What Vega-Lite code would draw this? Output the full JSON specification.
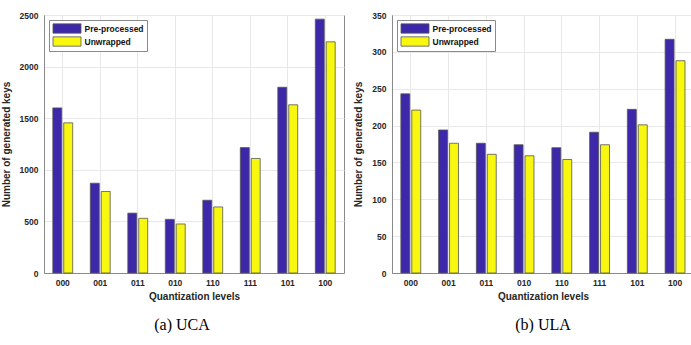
{
  "$schema": "https://vega.github.io/schema/vega-lite/v6.json",
  "padding": {"left": 0, "top": 10, "right": 0, "bottom": 0},
  "background": "white",
  "datasets": {
    "uca": [
      {"level": "000", "series": "Pre-processed", "value": 1600},
      {"level": "000", "series": "Unwrapped", "value": 1455},
      {"level": "001", "series": "Pre-processed", "value": 870},
      {"level": "001", "series": "Unwrapped", "value": 790},
      {"level": "011", "series": "Pre-processed", "value": 580},
      {"level": "011", "series": "Unwrapped", "value": 530},
      {"level": "010", "series": "Pre-processed", "value": 520},
      {"level": "010", "series": "Unwrapped", "value": 475},
      {"level": "110", "series": "Pre-processed", "value": 705},
      {"level": "110", "series": "Unwrapped", "value": 640},
      {"level": "111", "series": "Pre-processed", "value": 1215},
      {"level": "111", "series": "Unwrapped", "value": 1110},
      {"level": "101", "series": "Pre-processed", "value": 1800},
      {"level": "101", "series": "Unwrapped", "value": 1630},
      {"level": "100", "series": "Pre-processed", "value": 2460},
      {"level": "100", "series": "Unwrapped", "value": 2240}
    ],
    "ula": [
      {"level": "000", "series": "Pre-processed", "value": 243},
      {"level": "000", "series": "Unwrapped", "value": 221},
      {"level": "001", "series": "Pre-processed", "value": 194},
      {"level": "001", "series": "Unwrapped", "value": 176},
      {"level": "011", "series": "Pre-processed", "value": 176},
      {"level": "011", "series": "Unwrapped", "value": 161},
      {"level": "010", "series": "Pre-processed", "value": 174},
      {"level": "010", "series": "Unwrapped", "value": 159},
      {"level": "110", "series": "Pre-processed", "value": 170},
      {"level": "110", "series": "Unwrapped", "value": 154},
      {"level": "111", "series": "Pre-processed", "value": 191},
      {"level": "111", "series": "Unwrapped", "value": 174},
      {"level": "101", "series": "Pre-processed", "value": 222},
      {"level": "101", "series": "Unwrapped", "value": 201},
      {"level": "100", "series": "Pre-processed", "value": 317},
      {"level": "100", "series": "Unwrapped", "value": 288}
    ]
  },
  "spacing": 8,
  "resolve": {"scale": {"color": "independent", "y": "independent"}, "legend": {"color": "independent"}},
  "hconcat": [
    {
      "width": 300,
      "height": 258,
      "data": {"name": "uca"},
      "title": {"text": "(a) UCA", "orient": "bottom", "frame": "group", "dx": -12, "offset": 15},
      "mark": {"type": "bar", "stroke": "#555555", "strokeWidth": 0.8},
      "encoding": {
        "x": {
          "field": "level", "type": "nominal",
          "sort": ["000", "001", "011", "010", "110", "111", "101", "100"],
          "scale": {"paddingInner": 0.47, "paddingOuter": 0.235},
          "axis": {"title": "Quantization levels", "labelAngle": 0, "grid": true, "bandPosition": 0.5, "labelPadding": 5, "titlePadding": 5}
        },
        "xOffset": {"field": "series", "type": "nominal", "scale": {"paddingInner": 0.18, "paddingOuter": 0}},
        "y": {
          "field": "value", "type": "quantitative",
          "scale": {"domain": [0, 2500], "nice": false},
          "axis": {"title": "Number of generated keys", "format": "d", "values": [0, 500, 1000, 1500, 2000, 2500], "labelPadding": 6, "titlePadding": 8}
        },
        "color": {
          "field": "series", "type": "nominal",
          "scale": {"domain": ["Pre-processed", "Unwrapped"], "range": ["#3c28a8", "#f7f70f"]},
          "legend": {"title": null, "orient": "none", "legendX": 5, "legendY": 5}
        }
      }
    },
    {
      "width": 302,
      "height": 258,
      "data": {"name": "ula"},
      "title": {"text": "(b) ULA", "orient": "bottom", "frame": "group", "dx": 0, "offset": 15},
      "mark": {"type": "bar", "stroke": "#555555", "strokeWidth": 0.8},
      "encoding": {
        "x": {
          "field": "level", "type": "nominal",
          "sort": ["000", "001", "011", "010", "110", "111", "101", "100"],
          "scale": {"paddingInner": 0.47, "paddingOuter": 0.235},
          "axis": {"title": "Quantization levels", "labelAngle": 0, "grid": true, "bandPosition": 0.5, "labelPadding": 5, "titlePadding": 5}
        },
        "xOffset": {"field": "series", "type": "nominal", "scale": {"paddingInner": 0.18, "paddingOuter": 0}},
        "y": {
          "field": "value", "type": "quantitative",
          "scale": {"domain": [0, 350], "nice": false},
          "axis": {"title": "Number of generated keys", "format": "d", "values": [0, 50, 100, 150, 200, 250, 300, 350], "labelPadding": 6, "titlePadding": 8}
        },
        "color": {
          "field": "series", "type": "nominal",
          "scale": {"domain": ["Pre-processed", "Unwrapped"], "range": ["#3c28a8", "#f7f70f"]},
          "legend": {"title": null, "orient": "none", "legendX": 5, "legendY": 5}
        }
      }
    }
  ],
  "config": {
    "font": "Liberation Sans",
    "view": {"stroke": "#8a8a8a", "strokeWidth": 1},
    "axis": {
      "labelFont": "Liberation Sans", "labelFontWeight": "bold", "labelFontSize": 8.5, "labelColor": "#262626",
      "titleFont": "Liberation Sans", "titleFontWeight": "bold", "titleFontSize": 10, "titleColor": "#262626",
      "domainColor": "#8a8a8a", "gridColor": "#e8e8e8", "ticks": false
    },
    "legend": {
      "labelFont": "Liberation Sans", "labelFontWeight": "bold", "labelFontSize": 8.5, "labelColor": "#111111",
      "symbolType": "M-3,-1H3V1H-3Z", "symbolSize": 87, "symbolStrokeColor": "#555555", "symbolStrokeWidth": 0.8,
      "symbolOpacity": 1, "symbolOffset": 9.5, "labelOffset": 12, "rowPadding": 0,
      "strokeColor": "#8a8a8a", "fillColor": "white", "padding": 3
    },
    "title": {"font": "Liberation Serif", "fontSize": 16, "fontWeight": "normal", "color": "#000000", "anchor": "middle"}
  }
}
